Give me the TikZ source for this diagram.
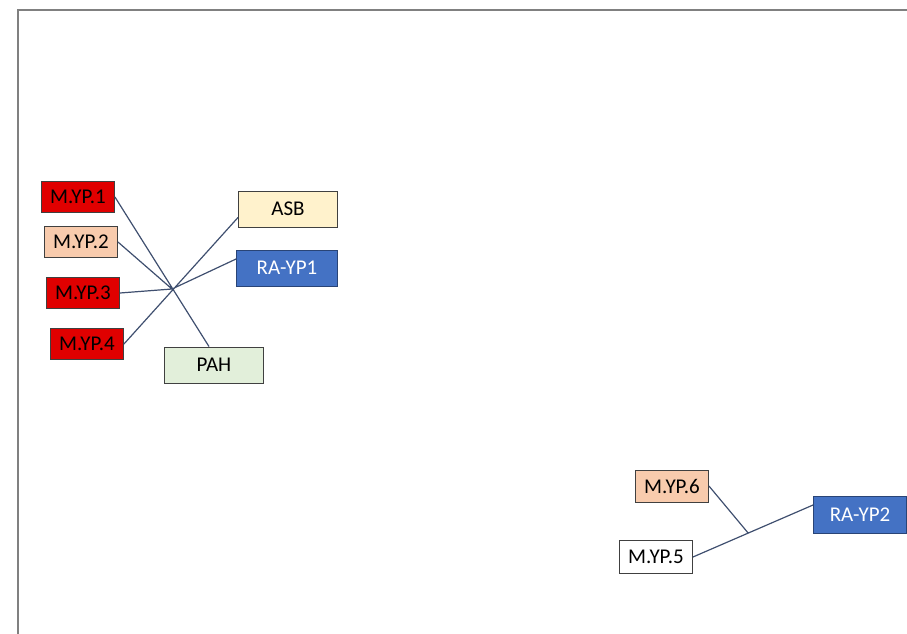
\documentclass[tikz,border=0pt]{standalone}
\usepackage{fontspec}
\setmainfont{Carlito}
\usetikzlibrary{calc}
\definecolor{ypred}{HTML}{E00000}
\definecolor{yppeach}{HTML}{F8CBAD}
\definecolor{ypcream}{HTML}{FFF2CC}
\definecolor{ypgreen}{HTML}{E2EFDA}
\definecolor{ypblue}{HTML}{4472C4}
\definecolor{linkcol}{HTML}{3F4F6F}
\begin{document}
\begin{tikzpicture}[x=1pt,y=-1pt,font=\fontsize{21}{24}\selectfont]
		\tikzstyle{box}=[draw=black!75,line width=0.9pt,inner sep=0pt,minimum width=73pt,minimum height=31pt,text=black]
		\tikzstyle{wide}=[box,minimum width=99pt,minimum height=36pt]
		\tikzstyle{link}=[draw=linkcol,line width=1.2pt]
		\useasboundingbox (0,0) rectangle (907,634);
		\draw[gray,line width=2pt] (18,634) -- (18,10) -- (907,10);
		% first cluster
		\node[box,fill=ypred]                 (M1)  at (78,197)  {M.YP.1};
		\node[box,fill=yppeach]               (M2)  at (81,242)  {M.YP.2};
		\node[box,fill=ypred]                 (M3)  at (83,293)  {M.YP.3};
		\node[box,fill=ypred]                 (M4)  at (87,344)  {M.YP.4};
		\node[wide,fill=ypcream]              (ASB) at (288,209) {ASB};
		\node[wide,fill=ypblue,draw=ypblue!60!black,text=white,minimum width=101pt] (RA1) at (287,268) {RA-YP1};
		\node[wide,fill=ypgreen]              (PAH) at (214,365) {PAH};
		\coordinate (H1) at (172,289);
		\path[link] (M1.east) -- ($(PAH.north)+(-5,0)$)
		            (M4.east) -- ($(ASB.south west)+(0,-10)$)
		            (M2.east) -- (H1)
		            (M3.east) -- (H1)
		            ($(RA1.west)+(0,-9)$) -- (H1);
		% second cluster
		\node[box,fill=yppeach,minimum height=32pt] (M6)  at (672,486) {M.YP.6};
		\node[box,fill=white,minimum height=33pt]   (M5)  at (656,557) {M.YP.5};
		\node[wide,fill=ypblue,draw=ypblue!60!black,text=white,minimum width=93pt,minimum height=37pt] (RA2) at (860,515) {RA-YP2};
		\coordinate (R2in) at ($(RA2.west)+(0,-10)$);
		\coordinate (H2) at ($(M5.east)!0.46!(R2in)$);
		\path[link] (M5.east) -- (R2in)
		            (M6.east) -- (H2);
	\end{tikzpicture}
\end{document}
